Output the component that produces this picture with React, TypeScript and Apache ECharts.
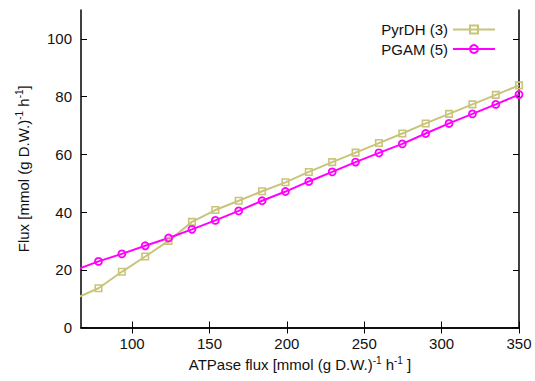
import React, { useEffect, useRef } from "react";
import * as echarts from "echarts";

const atpaseFlux = [63.2, 78.3, 93.4, 108.5, 123.6, 138.7, 153.8, 168.9, 184, 199.1, 214.2, 229.3, 244.4, 259.5, 274.6, 289.7, 304.8, 319.9, 335, 350];
const pyrdh = [10.0, 13.6, 19.3, 24.6, 30.0, 36.6, 40.7, 43.9, 47.2, 50.3, 53.9, 57.3, 60.6, 63.9, 67.2, 70.7, 74.0, 77.3, 80.6, 83.9];
const pgam = [19.9, 22.9, 25.5, 28.3, 31.0, 34.0, 37.1, 40.4, 43.9, 47.1, 50.6, 53.9, 57.3, 60.5, 63.6, 67.2, 70.7, 74.0, 77.3, 80.7];
const xTicks = [100, 150, 200, 250, 300, 350];
const yTicks = [0, 20, 40, 60, 80, 100];
const seriesNames = ["PyrDH (3)", "PGAM (5)"];

const FONT = "Liberation Sans, Arial, sans-serif";
const C_PYR = "#c8c47a";
const C_PGAM = "#ff00ff";

export default function App() {
  const ref = useRef<HTMLDivElement>(null);
  useEffect(() => {
    if (!ref.current) return;
    const chart = echarts.init(ref.current, null, { renderer: "svg" });
    const tickCommon = { show: true, inside: true, length: 6, lineStyle: { color: "#000", width: 1 } };
    const axisLine = { show: true, lineStyle: { color: "#000", width: 1.5 } };
    const sup = { fontSize: 10, verticalAlign: "top" as const, padding: [0, 0, 8, 0], fontFamily: FONT, color: "#111" };
    const base = { fontSize: 15, fontFamily: FONT, color: "#111" };
    chart.setOption({
      animation: false,
      backgroundColor: "#fff",
      grid: { left: 81, right: 16, top: 10, bottom: 53.5, containLabel: false },
      legend: {
        data: seriesNames,
        right: 34,
        top: 17,
        orient: "vertical",
        align: "right",
        itemWidth: 42,
        itemHeight: 10,
        itemGap: 4.5,
        textStyle: { fontSize: 15, fontFamily: FONT, color: "#111" },
      },
      xAxis: [
        {
          type: "value",
          min: 67,
          max: 350,
          position: "bottom",
          axisLine,
          splitLine: { show: false },
          axisTick: { ...tickCommon, customValues: xTicks },
          axisLabel: { customValues: xTicks, fontSize: 15, fontFamily: FONT, color: "#111", margin: 8 },
          name: "{b|ATPase flux [mmol (g D.W.)}{s|-1}{b| h}{s|-1}{b| ]}",
          nameLocation: "middle",
          nameGap: 28,
          nameTextStyle: { rich: { b: base, s: sup } },
        },
        {
          type: "value",
          min: 67,
          max: 350,
          position: "top",
          axisLine,
          splitLine: { show: false },
          axisTick: { ...tickCommon, customValues: xTicks },
          axisLabel: { show: false },
        },
      ],
      yAxis: [
        {
          type: "value",
          min: 0,
          max: 110,
          position: "left",
          axisLine,
          splitLine: { show: false },
          axisTick: { ...tickCommon, customValues: yTicks },
          axisLabel: { customValues: yTicks, fontSize: 15, fontFamily: FONT, color: "#111", margin: 9 },
          name: "{b|Flux [mmol (g D.W.)}{s|-1}{b| h}{s|-1}{b|]}",
          nameLocation: "middle",
          nameGap: 49,
          nameRotate: 90,
          nameTextStyle: { rich: { b: base, s: sup } },
        },
        {
          type: "value",
          min: 0,
          max: 110,
          position: "right",
          axisLine,
          splitLine: { show: false },
          axisTick: { ...tickCommon, customValues: yTicks },
          axisLabel: { show: false },
        },
      ],
      series: [
        {
          name: seriesNames[0],
          type: "line",
          data: atpaseFlux.map((x, i) => [x, pyrdh[i]]),
          symbol: "rect",
          symbolSize: 6.5,
          showAllSymbol: true,
          clip: true,
          lineStyle: { color: C_PYR, width: 2 },
          itemStyle: { color: "rgba(255,255,255,0)", borderColor: C_PYR, borderWidth: 1.6 },
        },
        {
          name: seriesNames[1],
          type: "line",
          data: atpaseFlux.map((x, i) => [x, pgam[i]]),
          symbol: "circle",
          symbolSize: 7,
          showAllSymbol: true,
          clip: true,
          lineStyle: { color: C_PGAM, width: 2 },
          itemStyle: { color: "rgba(255,255,255,0)", borderColor: C_PGAM, borderWidth: 1.8 },
        },
      ],
    });
    return () => chart.dispose();
  }, []);
  return <div ref={ref} style={{ position: "fixed", left: 0, top: 0, width: 535, height: 381 }} />;
}
